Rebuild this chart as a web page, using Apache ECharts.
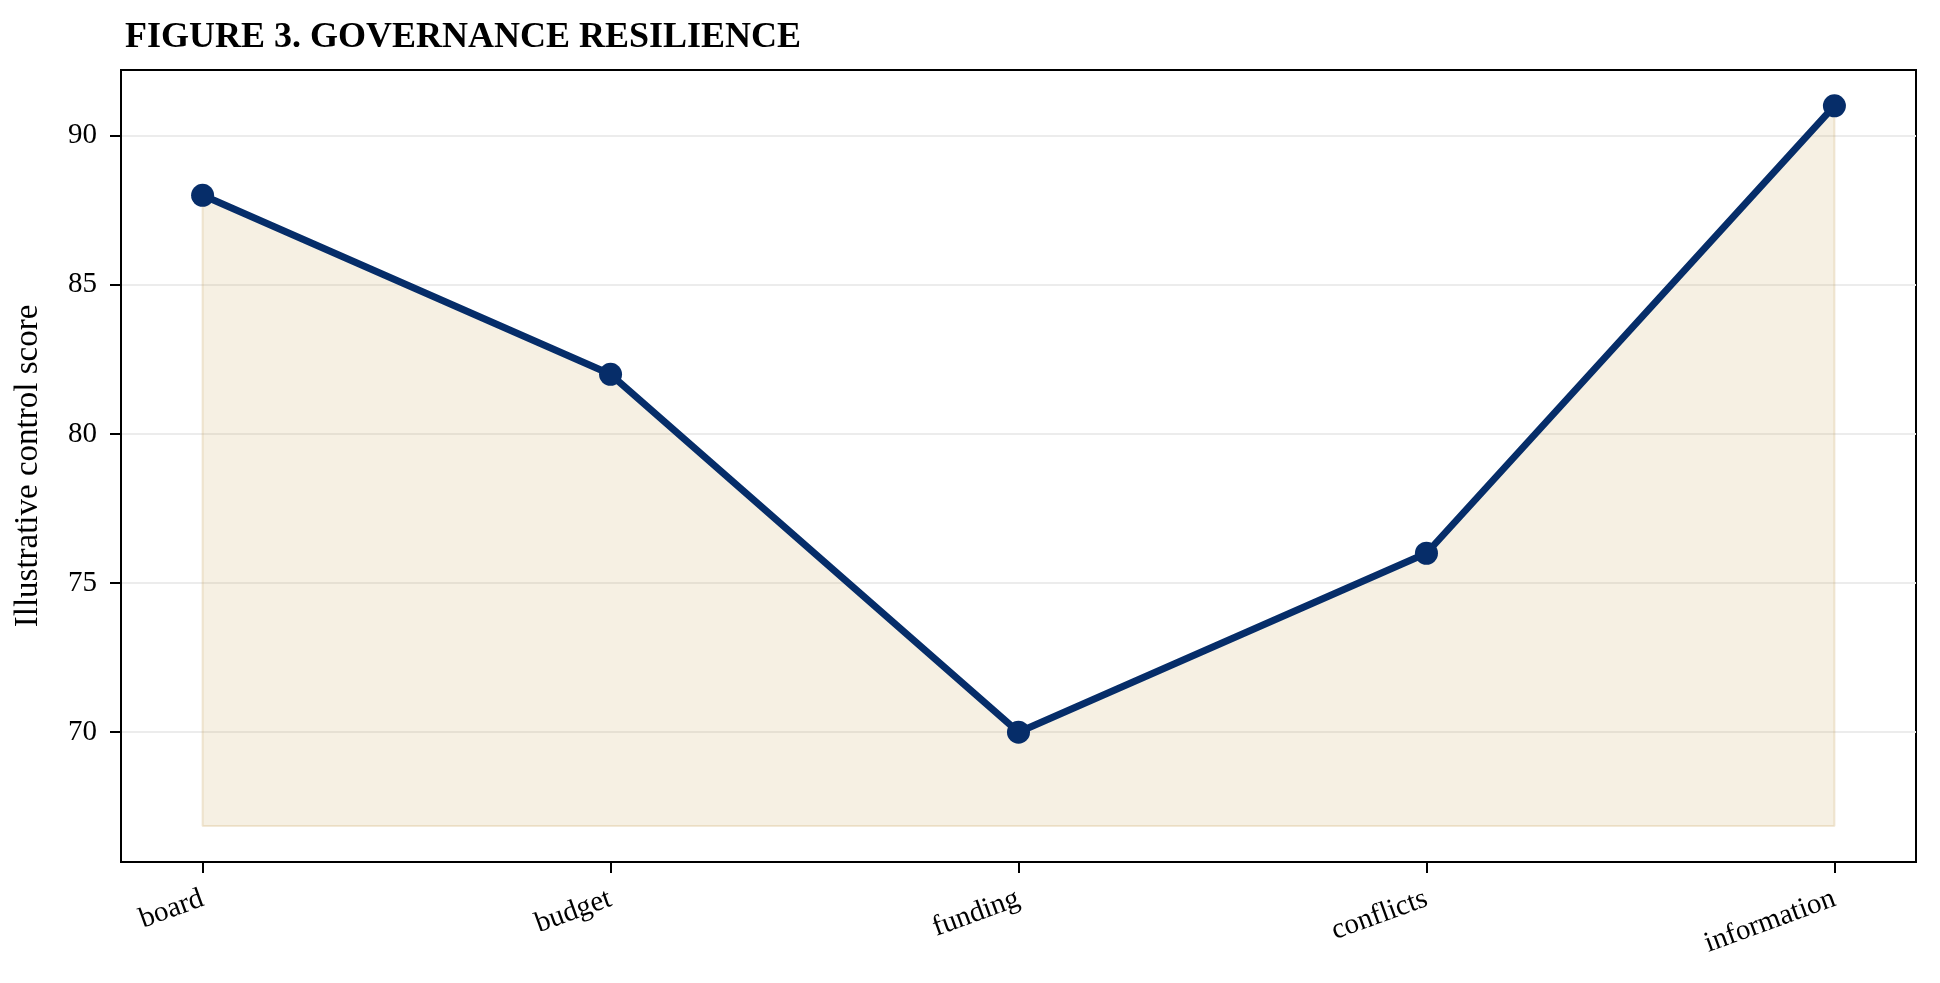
<!DOCTYPE html>
<html>
<head>
<meta charset="utf-8">
<title>Figure 3. Governance resilience</title>
<script src="https://cdn.jsdelivr.net/npm/echarts@6/dist/echarts.min.js"></script>
<style>
  html, body { margin: 0; padding: 0; background: #fff; }
  #chart { width: 1940px; height: 983px; }
</style>
</head>
<body>
<div id="chart"></div>
<script>
// 类别与分值
const categories = ['board', 'budget', 'funding', 'conflicts', 'information'];
const scores = [88, 82, 70, 76, 91];
// 刻度
const yTicks = [70, 75, 80, 85, 90];
const xTicks = [0, 1, 2, 3, 4];
// 填充区域底线
const fillBase = 66.86;

const FONT = "'Liberation Serif', 'Times New Roman', serif";
const LINE_COLOR = '#062d69';
const FILL_COLOR = 'rgba(200, 164, 90, 0.24)';

const points = scores.map((v, i) => [i, v]);
const last = scores.length - 1;
// 填充区域外框（左、下、右三边）
const fillEdge = [
  [last, scores[last]],
  [last, fillBase],
  [0, fillBase],
  [0, scores[0]]
];

const chart = echarts.init(document.getElementById('chart'));

const option = {
  animation: false,
  backgroundColor: '#fff',
  title: {
    text: 'FIGURE 3. GOVERNANCE RESILIENCE',
    left: 120,
    top: 15,
    textStyle: {
      fontFamily: FONT,
      fontWeight: 'bold',
      fontSize: 36,
      color: '#000'
    }
  },
  grid: {
    left: 121,
    right: 24,
    top: 70,
    bottom: 121,
    show: true,
    borderColor: '#000',
    borderWidth: 2,
    containLabel: false
  },
  xAxis: {
    type: 'value',
    min: -0.2,
    max: 4.2,
    axisLine: { show: true, onZero: false, lineStyle: { color: '#000', width: 2 } },
    axisTick: {
      show: true,
      customValues: xTicks,
      length: 11,
      lineStyle: { color: '#000', width: 2 }
    },
    axisLabel: {
      customValues: xTicks,
      rotate: 20,
      margin: 36,
      fontFamily: FONT,
      fontSize: 29,
      color: '#000',
      formatter: v => categories[Math.round(v)]
    },
    splitLine: { show: false }
  },
  yAxis: {
    type: 'value',
    min: 65.65,
    max: 92.2,
    name: 'Illustrative control score',
    nameLocation: 'middle',
    nameGap: 76,
    nameTextStyle: {
      fontFamily: FONT,
      fontSize: 33,
      color: '#000'
    },
    axisLine: { show: true, onZero: false, lineStyle: { color: '#000', width: 2 } },
    axisTick: {
      show: true,
      customValues: yTicks,
      length: 11,
      lineStyle: { color: '#000', width: 2 }
    },
    axisLabel: {
      customValues: yTicks,
      margin: 24,
      fontFamily: FONT,
      fontSize: 29,
      color: '#000'
    },
    splitLine: {
      show: true,
      lineStyle: { color: '#ececec', width: 2 }
    }
  },
  series: [
    {
      // 填充区域
      type: 'line',
      data: points,
      symbol: 'none',
      lineStyle: { width: 0 },
      areaStyle: {
        origin: fillBase,
        color: FILL_COLOR
      },
      silent: true,
      z: 1
    },
    {
      // 填充区域边线
      type: 'line',
      data: fillEdge,
      symbol: 'none',
      lineStyle: { width: 2, color: FILL_COLOR },
      silent: true,
      z: 2
    },
    {
      // 折线与节点
      type: 'line',
      data: points,
      symbol: 'circle',
      symbolSize: 23,
      lineStyle: { width: 7, color: LINE_COLOR },
      itemStyle: { color: LINE_COLOR },
      z: 3
    }
  ]
};

chart.setOption(option);
</script>
</body>
</html>
